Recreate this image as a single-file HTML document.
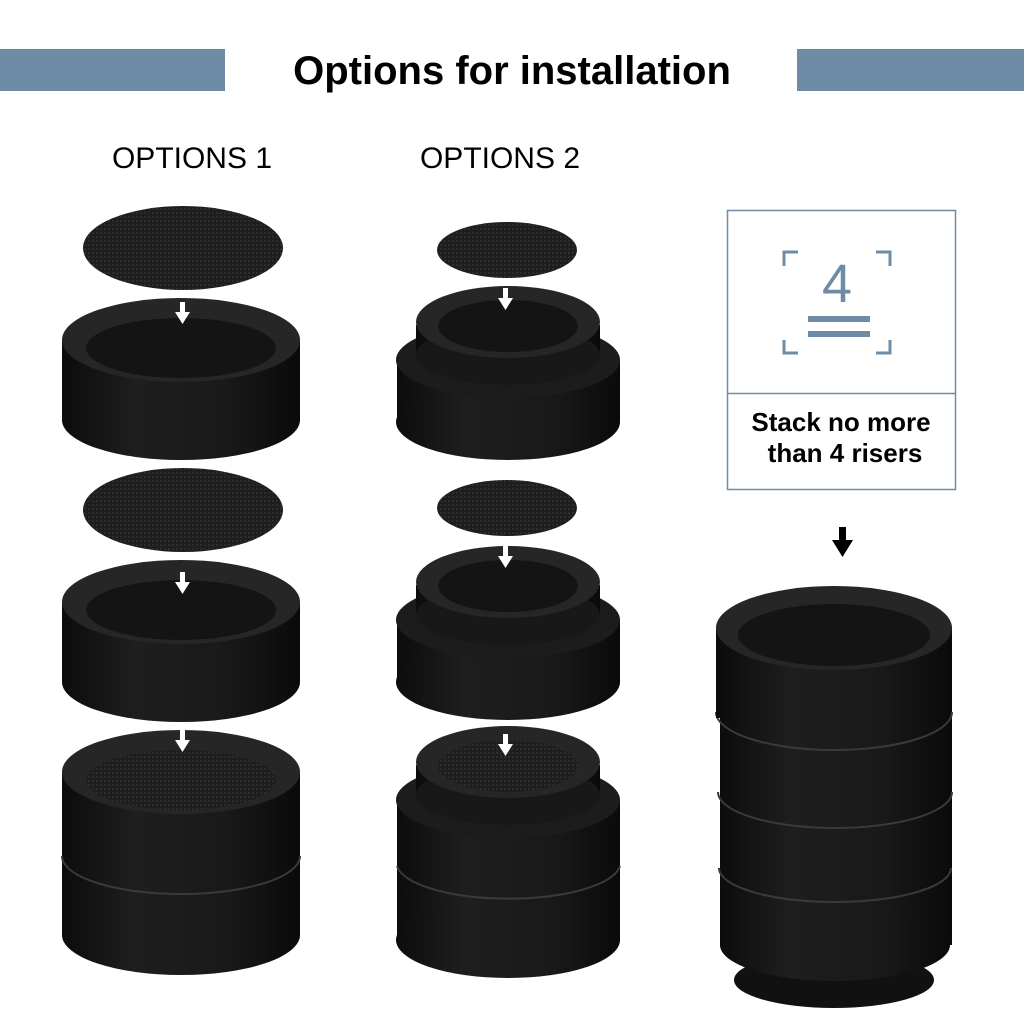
<!DOCTYPE html>
<html><head><meta charset="utf-8"><style>
body{margin:0;background:#fff;width:1024px;height:1024px;overflow:hidden;font-family:"Liberation Sans",sans-serif}
</style></head><body>
<svg width="1024" height="1024" viewBox="0 0 1024 1024" xmlns="http://www.w3.org/2000/svg">
<defs>
<pattern id="mesh" width="4" height="4" patternUnits="userSpaceOnUse"><rect width="4" height="4" fill="#1e1e1e"/><rect width="2" height="2" fill="#2c2c2c"/></pattern>
<linearGradient id="body" x1="0" x2="1" y1="0" y2="0"><stop offset="0" stop-color="#0c0c0c"/><stop offset=".3" stop-color="#1e1e1e"/><stop offset=".7" stop-color="#191919"/><stop offset="1" stop-color="#0a0a0a"/></linearGradient>
</defs>
<rect x="0" y="49" width="225" height="42" fill="#6e8ca6"/>
<rect x="797" y="49" width="227" height="42" fill="#6e8ca6"/>
<text x="512" y="84" font-size="40" font-weight="bold" text-anchor="middle" fill="#000">Options for installation</text>
<text x="192" y="168" font-size="30" text-anchor="middle" fill="#000">OPTIONS 1</text>
<text x="500" y="168" font-size="30" text-anchor="middle" fill="#000">OPTIONS 2</text>

<!-- Option 1 -->
<ellipse cx="183" cy="248" rx="100" ry="42" fill="url(#mesh)"/>
<g>
<rect x="62" y="340" width="238" height="80" fill="url(#body)"/><ellipse cx="181" cy="420" rx="119" ry="40" fill="url(#body)"/>
<ellipse cx="181" cy="340" rx="119" ry="42" fill="#262626"/><ellipse cx="181" cy="348" rx="95" ry="30" fill="#141414"/>
</g>
<ellipse cx="183" cy="510" rx="100" ry="42" fill="url(#mesh)"/>
<g>
<rect x="62" y="602" width="238" height="80" fill="url(#body)"/><ellipse cx="181" cy="682" rx="119" ry="40" fill="url(#body)"/>
<ellipse cx="181" cy="602" rx="119" ry="42" fill="#262626"/><ellipse cx="181" cy="610" rx="95" ry="30" fill="#141414"/>
</g>
<g>
<rect x="62" y="860" width="238" height="75" fill="url(#body)"/><ellipse cx="181" cy="935" rx="119" ry="40" fill="url(#body)"/>
<rect x="62" y="772" width="238" height="88" fill="url(#body)"/>
<path d="M62 856 A119 38 0 0 0 300 856" fill="none" stroke="#3a3a3a" stroke-width="2"/>
<ellipse cx="181" cy="772" rx="119" ry="42" fill="#262626"/><ellipse cx="181" cy="780" rx="95" ry="30" fill="url(#mesh)"/>
</g>

<!-- Option 2 -->
<ellipse cx="507" cy="250" rx="70" ry="28" fill="url(#mesh)"/>
<g>
<rect x="397" y="360" width="223" height="62" fill="url(#body)"/><ellipse cx="508" cy="422" rx="112" ry="38" fill="url(#body)"/>
<ellipse cx="508" cy="360" rx="112" ry="38" fill="#1c1c1c"/>
<rect x="416" y="325" width="184" height="30" fill="url(#body)"/>
<ellipse cx="508" cy="355" rx="92" ry="30" fill="#181818"/>
<ellipse cx="508" cy="322" rx="92" ry="36" fill="#262626"/><ellipse cx="508" cy="326" rx="70" ry="26" fill="#141414"/>
</g>
<ellipse cx="507" cy="508" rx="70" ry="28" fill="url(#mesh)"/>
<g>
<rect x="397" y="620" width="223" height="62" fill="url(#body)"/><ellipse cx="508" cy="682" rx="112" ry="38" fill="url(#body)"/>
<ellipse cx="508" cy="620" rx="112" ry="38" fill="#1c1c1c"/>
<rect x="416" y="585" width="184" height="30" fill="url(#body)"/>
<ellipse cx="508" cy="615" rx="92" ry="30" fill="#181818"/>
<ellipse cx="508" cy="582" rx="92" ry="36" fill="#262626"/><ellipse cx="508" cy="586" rx="70" ry="26" fill="#141414"/>
</g>
<g>
<rect x="397" y="870" width="223" height="70" fill="url(#body)"/><ellipse cx="508" cy="940" rx="112" ry="38" fill="url(#body)"/>
<rect x="397" y="800" width="223" height="70" fill="url(#body)"/>
<path d="M397 866 A112 36 0 0 0 620 866" fill="none" stroke="#3a3a3a" stroke-width="2"/>
<ellipse cx="508" cy="800" rx="112" ry="38" fill="#1c1c1c"/>
<rect x="416" y="765" width="184" height="30" fill="url(#body)"/>
<ellipse cx="508" cy="795" rx="92" ry="30" fill="#181818"/>
<ellipse cx="508" cy="762" rx="92" ry="36" fill="#262626"/><ellipse cx="508" cy="766" rx="70" ry="26" fill="url(#mesh)"/>
</g>

<!-- white arrows -->
<g fill="#fff">
<rect x="180" y="302" width="5" height="12"/><polygon points="175,312 190,312 182.5,324"/>
<rect x="180" y="572" width="5" height="12"/><polygon points="175,582 190,582 182.5,594"/>
<rect x="180" y="730" width="5" height="12"/><polygon points="175,740 190,740 182.5,752"/>
<rect x="503" y="288" width="5" height="12"/><polygon points="498,298 513,298 505.5,310"/>
<rect x="503" y="546" width="5" height="12"/><polygon points="498,556 513,556 505.5,568"/>
<rect x="503" y="734" width="5" height="12"/><polygon points="498,744 513,744 505.5,756"/>
</g>

<!-- Right box -->
<rect x="727.5" y="210.5" width="228" height="279" fill="#fff" stroke="#6e8ca6" stroke-width="1.5"/>
<line x1="727" y1="393.5" x2="956" y2="393.5" stroke="#6e8ca6" stroke-width="1.5"/>
<g stroke="#6e8ca6" stroke-width="3" fill="none">
<polyline points="784,266 784,252 798,252"/><polyline points="876,252 890,252 890,266"/>
<polyline points="784,340 784,353 798,353"/><polyline points="876,353 890,353 890,340"/>
</g>
<text x="837" y="302" font-size="54" text-anchor="middle" fill="#6e8ca6">4</text>
<rect x="808" y="316" width="62" height="6" fill="#6e8ca6"/><rect x="808" y="331" width="62" height="6" fill="#6e8ca6"/>
<text x="841" y="431" font-size="26" font-weight="bold" text-anchor="middle" fill="#000">Stack no more</text>
<text x="845" y="462" font-size="26" font-weight="bold" text-anchor="middle" fill="#000">than 4 risers</text>
<rect x="839" y="527" width="7" height="15" fill="#000"/><polygon points="832,540 853,540 842.5,557" fill="#000"/>

<!-- Right stack -->
<g>
<ellipse cx="834" cy="980" rx="100" ry="28" fill="#111"/>
<rect x="720" y="628" width="232" height="317" fill="url(#body)"/>
<ellipse cx="835" cy="945" rx="115" ry="36" fill="url(#body)"/>
<path d="M716 712 A118 38 0 0 0 952 712" fill="none" stroke="#3a3a3a" stroke-width="2"/>
<path d="M718 792 A117 36 0 0 0 952 792" fill="none" stroke="#3a3a3a" stroke-width="2"/>
<path d="M719 868 A116 34 0 0 0 951 868" fill="none" stroke="#3a3a3a" stroke-width="2"/>
<rect x="716" y="628" width="4" height="90" fill="#0c0c0c"/>
<ellipse cx="834" cy="628" rx="118" ry="42" fill="#262626"/><ellipse cx="834" cy="635" rx="96" ry="31" fill="#141414"/>
</g>
</svg>
</body></html>
